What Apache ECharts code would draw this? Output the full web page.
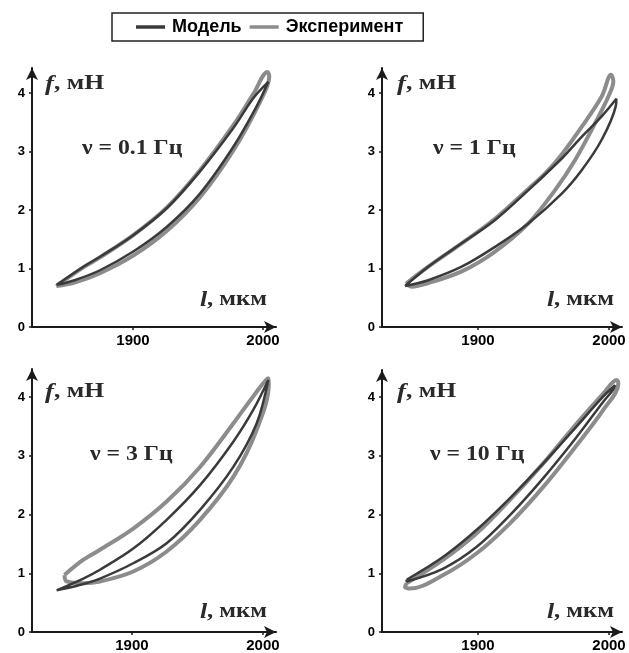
<!DOCTYPE html>
<html>
<head>
<meta charset="utf-8">
<script src="https://cdn.jsdelivr.net/npm/echarts@6/dist/echarts.min.js"></script>
<style>
html,body{margin:0;padding:0;background:#fff;}
#c{width:629px;height:653px;}
</style>
</head>
<body>
<div id="c"></div>
<script>
// ---- data: closed loops [l (мкм), f (мН)] ----
const model01 = [[1841.3,0.72],[1861.8,1.03],[1874.6,1.20],[1900.2,1.57],[1925.9,2.03],[1951.5,2.66],[1977.2,3.40],[1992.5,3.91],[2004.1,4.19],[1995.1,3.77],[1977.2,3.08],[1951.5,2.28],[1925.9,1.71],[1900.2,1.29],[1874.6,0.97],[1855,0.80],[1841.3,0.72]];
const exp01 = [[1841,0.70],[1861.8,1.02],[1874.6,1.19],[1900.2,1.57],[1925.9,2.04],[1951.5,2.68],[1977.2,3.45],[1992.5,3.98],[2003.5,4.36],[2004.8,4.28],[1997.7,3.85],[1977.2,3.02],[1951.5,2.22],[1925.9,1.64],[1900.2,1.22],[1874.6,0.92],[1855,0.76],[1841,0.70]];

const model1 = [[1844.3,0.70],[1862.0,1.03],[1887.5,1.43],[1913.0,1.83],[1938.4,2.34],[1963.9,2.88],[1979.1,3.25],[1994.4,3.60],[2005.6,3.90],[2005.2,3.78],[1994.4,3.20],[1979.1,2.68],[1963.9,2.28],[1938.4,1.77],[1913.0,1.37],[1887.5,1.03],[1862.0,0.80],[1844.3,0.70]];
const exp1 = [[1845.0,0.74],[1862.0,1.03],[1887.5,1.43],[1913.0,1.85],[1938.4,2.36],[1951.1,2.62],[1963.9,2.95],[1979.1,3.42],[1994.4,3.94],[2001.5,4.31],[2003.3,4.20],[1999.5,3.94],[1989.3,3.48],[1974.0,2.85],[1958.8,2.34],[1938.4,1.77],[1913.0,1.29],[1887.5,0.95],[1862.0,0.75],[1849.4,0.69],[1845.0,0.74]];

const model3 = [[1842.5,0.71],[1862.9,0.91],[1875.6,1.06],[1901.0,1.42],[1926.5,1.91],[1952.0,2.50],[1977.4,3.24],[1992.6,3.78],[2004.1,4.29],[1995.2,3.55],[1977.4,2.81],[1952.0,2.08],[1926.5,1.51],[1901.0,1.17],[1875.6,0.91],[1860,0.80],[1842.5,0.71]];
const exp3 = [[1848.5,0.97],[1862.9,1.23],[1875.6,1.40],[1901.0,1.76],[1926.5,2.22],[1952.0,2.81],[1977.4,3.55],[1992.6,4.01],[2004.1,4.32],[2004.5,4.23],[1995.2,3.44],[1977.4,2.64],[1952.0,1.91],[1926.5,1.37],[1901.0,1.03],[1875.6,0.86],[1862.9,0.83],[1850.2,0.86],[1848.5,0.97]];

const model10 = [[1845.5,0.89],[1873.5,1.28],[1899.0,1.74],[1924.4,2.28],[1949.8,2.87],[1975.3,3.50],[1995.6,4.01],[2004.6,4.20],[2003.0,4.12],[1995.6,3.92],[1975.3,3.32],[1949.8,2.62],[1924.4,1.99],[1899.0,1.45],[1873.5,1.08],[1845.5,0.86],[1845.5,0.89]];
const exp10 = [[1845.5,0.83],[1873.5,1.23],[1899.0,1.68],[1924.4,2.25],[1949.8,2.87],[1975.3,3.55],[1995.6,4.06],[2005.9,4.29],[2007.1,4.23],[1995.6,3.78],[1975.3,3.18],[1949.8,2.47],[1924.4,1.85],[1899.0,1.34],[1873.5,0.97],[1848.1,0.74],[1844.3,0.77],[1845.5,0.83]];

const freqLabels = ['ν = 0.1 Гц','ν = 1 Гц','ν = 3 Гц','ν = 10 Гц'];
const xTicks = [1900, 2000];
const yTicks = [0, 1, 2, 3, 4];
const seriesNames = ['Модель', 'Эксперимент'];

const modelLoops = [model01, model1, model3, model10];
const expLoops = [exp01, exp1, exp3, exp10];

// ---- layout ----
const grids = [
  {left:32, top:68, width:244, height:259},
  {left:382, top:68, width:240, height:259},
  {left:32, top:369, width:244, height:263},
  {left:382, top:370, width:240, height:262}
];
const xMins = [1822.3, 1826.7, 1823.7, 1826.7];
const xMaxs = [2010.0, 2009.9, 2010.0, 2009.9];
const yMaxs = [4.427, 4.427, 4.477, 4.46];

const DARK = '#3a3a3a', GRAY = '#8c8c8c';
const axisLine = {show:true, lineStyle:{color:'#1a1a1a', width:2}, symbol:['none','arrow'], symbolSize:[9,12]};

const xAxes = grids.map((g,i)=>({
  type:'value', gridIndex:i, min:xMins[i], max:xMaxs[i],
  axisLine: axisLine,
  axisTick:{show:true, customValues:xTicks, length:3, lineStyle:{color:'#1a1a1a', width:1.5}},
  axisLabel:{show:true, customValues:xTicks, margin:6, color:'#000', fontFamily:'Liberation Sans, Arial', fontWeight:'bold', fontSize:15,
    formatter:(v)=>String(Math.round(v))},
  splitLine:{show:false}
}));
const yAxes = grids.map((g,i)=>({
  type:'value', gridIndex:i, min:0, max:yMaxs[i],
  axisLine: axisLine,
  axisTick:{show:true, customValues:yTicks, length:3, lineStyle:{color:'#1a1a1a', width:1.5}},
  axisLabel:{show:true, customValues:yTicks, margin:7, color:'#000', fontFamily:'Liberation Sans, Arial', fontWeight:'bold', fontSize:13,
    formatter:(v)=>String(Math.round(v))},
  splitLine:{show:false}
}));

const series = [];
for (let i=0;i<4;i++){
  series.push({type:'line', name:seriesNames[1], xAxisIndex:i, yAxisIndex:i, data:expLoops[i],
    symbol:'none', showSymbol:false, smooth:0.35, lineStyle:{color:GRAY, width:4}, itemStyle:{color:GRAY}, z:2, silent:true, animation:false});
  series.push({type:'line', name:seriesNames[0], xAxisIndex:i, yAxisIndex:i, data:modelLoops[i],
    symbol:'none', showSymbol:false, smooth:0.35, lineStyle:{color:DARK, width:2.5}, itemStyle:{color:DARK}, z:3, silent:true, animation:false});
}

const serif = 'Liberation Serif, Times New Roman, serif';
const fPos = [[45,84],[397,84],[45,392],[397,392]];
const lPos = [[267,300],[614,300],[267,612],[614,612]];
const nuPos = [[82,149],[433,149],[90,455],[430,455]];
const rich = {
  i:{fontFamily:serif, fontStyle:'italic', fontWeight:'bold', fontSize:22, fill:'#2a2a2a'},
  b:{fontFamily:serif, fontWeight:'bold', fontSize:21, fill:'#2a2a2a'}
};
const graphics = [];
for (let i=0;i<4;i++){
  graphics.push({type:'text', x:fPos[i][0], y:fPos[i][1], scaleX:1.22, silent:true, style:{
    text:'{i|f}{b|, мН}', rich:rich, align:'left', verticalAlign:'middle'}});
  graphics.push({type:'text', x:lPos[i][0], y:lPos[i][1], scaleX:1.17, silent:true, style:{
    text:'{i|l}{b|, мкм}', rich:rich, align:'right', verticalAlign:'middle'}});
  graphics.push({type:'text', x:nuPos[i][0], y:nuPos[i][1], scaleX:1.13, silent:true, style:{
    text:freqLabels[i], fontFamily:serif, fontWeight:'bold', fontSize:21, fill:'#2a2a2a', align:'left', verticalAlign:'middle'}});
}

const chart = echarts.init(document.getElementById('c'), null, {renderer:'canvas'});
chart.setOption({
  animation:false,
  backgroundColor:'#fff',
  legend:{
    data:seriesNames.map(n=>({name:n, icon:'rect'})), left:112, top:13, padding:[5,20,5,24], itemGap:8,
    itemWidth:29, itemHeight:3.5, borderColor:'#222', borderWidth:1.5, borderRadius:0,
    textStyle:{color:'#000', fontFamily:'Liberation Sans, Arial', fontWeight:'bold', fontSize:18, padding:[0,0,0,2]},
    selectedMode:false
  },
  grid: grids,
  xAxis: xAxes,
  yAxis: yAxes,
  series: series,
  graphic: graphics
});
</script>
</body>
</html>
